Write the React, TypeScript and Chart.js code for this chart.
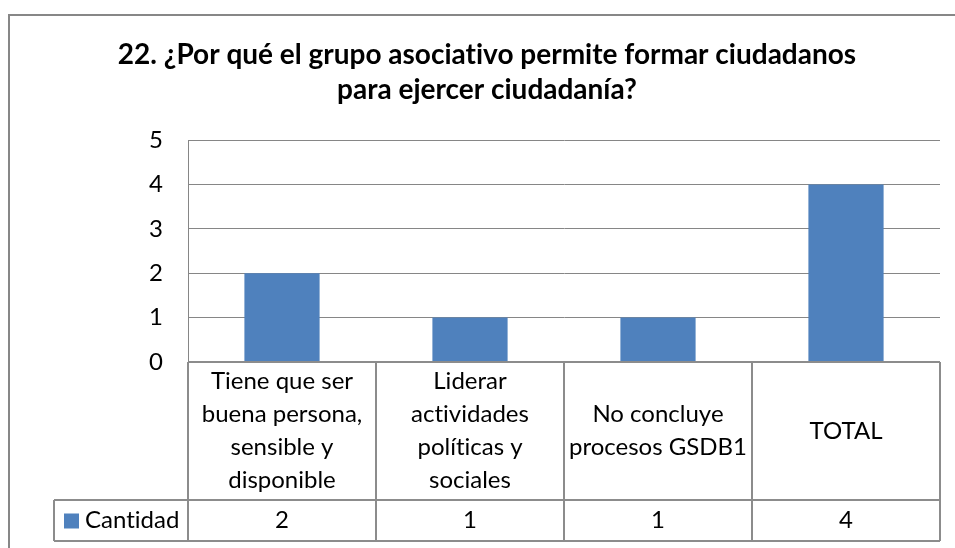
import React, { useEffect, useRef } from "react";
import { Chart, registerables } from "chart.js";

Chart.register(...registerables);

const titleLines = [
  "22. ¿Por qué el grupo asociativo permite formar ciudadanos",
  "para ejercer ciudadanía?",
];
const categories: string[][] = [
  ["Tiene que ser", "buena persona,", "sensible y", "disponible"],
  ["Liderar", "actividades", "políticas y", "sociales"],
  ["No concluye", "procesos GSDB1"],
  ["TOTAL"],
];
const seriesLabel = "Cantidad";
const values = [2, 1, 1, 4];
const yMin = 0;
const yMax = 5;
const yStep = 1;

const FONT = "Lato, 'Open Sans', sans-serif";
const GRID = "#868686";
const TABLE_LINE = "#8c8c8c";
const BAR = "#4F81BD";

const excelPlugin = {
  id: "excelFrame",
  beforeDraw(chart: any) {
    const ctx = chart.ctx as any;
    ctx.save();
    ctx.fillStyle = "#ffffff";
    ctx.fillRect(0, 0, chart.width, chart.height);
    // outer chart frame (cropped on right and bottom)
    ctx.strokeStyle = "#878787";
    ctx.lineWidth = 2;
    ctx.beginPath();
    ctx.moveTo(9, chart.height + 5);
    ctx.lineTo(9, 15);
    ctx.lineTo(chart.width + 5, 15);
    ctx.stroke();
    // title
    ctx.textRendering = "optimizeSpeed";
    ctx.fillStyle = "#000";
    ctx.font = `bold 28px ${FONT}`;
    ctx.textAlign = "center";
    ctx.textBaseline = "middle";
    titleLines.forEach((t, i) => ctx.fillText(t, 487, 55 + i * 35));
    ctx.restore();
  },
  afterDraw(chart: any) {
    const ctx = chart.ctx as any;
    const area = chart.chartArea;
    const xs = chart.scales.x;
    const n = categories.length;
    const colW = (xs.right - xs.left) / n;
    const top = area.bottom;
    const mid = top + 138;
    const bottom = mid + 41;
    const legendLeft = 54;

    ctx.save();
    ctx.textRendering = "optimizeSpeed";
    ctx.strokeStyle = TABLE_LINE;
    ctx.lineWidth = 2;
    ctx.beginPath();
    // horizontal lines
    ctx.moveTo(area.left, top);
    ctx.lineTo(xs.right, top);
    ctx.moveTo(legendLeft, mid);
    ctx.lineTo(xs.right, mid);
    ctx.moveTo(legendLeft, bottom);
    ctx.lineTo(xs.right, bottom);
    // vertical lines
    ctx.moveTo(legendLeft, mid);
    ctx.lineTo(legendLeft, bottom);
    for (let i = 0; i <= n; i++) {
      const x = xs.left + i * colW;
      ctx.moveTo(x, top);
      ctx.lineTo(x, bottom);
    }
    ctx.stroke();

    // category labels
    ctx.fillStyle = "#000";
    ctx.font = `24px ${FONT}`;
    ctx.textAlign = "center";
    ctx.textBaseline = "middle";
    const lh = 33;
    categories.forEach((lines, i) => {
      const cx = xs.getPixelForValue(i);
      const cy = (top + mid) / 2;
      const start = cy - ((lines.length - 1) * lh) / 2;
      lines.forEach((l, j) => ctx.fillText(l, cx, start + j * lh));
    });
    // values row
    values.forEach((v, i) => {
      ctx.fillText(String(v), xs.getPixelForValue(i), (mid + bottom) / 2);
    });
    // legend key
    const ly = (mid + bottom) / 2;
    ctx.fillStyle = BAR;
    ctx.fillRect(64, ly - 7, 15, 15);
    ctx.fillStyle = "#000";
    ctx.textAlign = "left";
    ctx.fillText(seriesLabel, 85, ly);
    ctx.restore();
  },
};

export default function App() {
  const ref = useRef<HTMLCanvasElement>(null);
  useEffect(() => {
    if (!ref.current) return;
    const chart = new Chart(ref.current, {
      type: "bar",
      data: {
        labels: categories,
        datasets: [
          {
            label: seriesLabel,
            data: values,
            backgroundColor: BAR,
            borderWidth: 0,
            categoryPercentage: 1,
            barPercentage: 0.4,
          },
        ],
      },
      options: {
        animation: false,
        responsive: false,
        devicePixelRatio: 1,
        layout: { padding: { top: 140, right: 15, bottom: 186, left: 0 } },
        plugins: {
          legend: { display: false },
          title: { display: false },
          tooltip: { enabled: false },
        },
        scales: {
          x: { display: false },
          y: {
            min: yMin,
            max: yMax,
            ticks: {
              stepSize: yStep,
              padding: 25,
              color: "#000",
              font: { family: FONT, size: 24 },
            },
            grid: { color: GRID, drawTicks: false, lineWidth: 1 },
            border: { color: GRID, width: 1 },
            afterFit(s: any) {
              s.width = 188;
            },
          },
        },
      },
      plugins: [excelPlugin],
    });
    return () => chart.destroy();
  }, []);
  return (
    <div style={{ position: "absolute", left: 0, top: 0 }}>
      <canvas ref={ref} width={955} height={548} style={{ display: "block" }} />
    </div>
  );
}
